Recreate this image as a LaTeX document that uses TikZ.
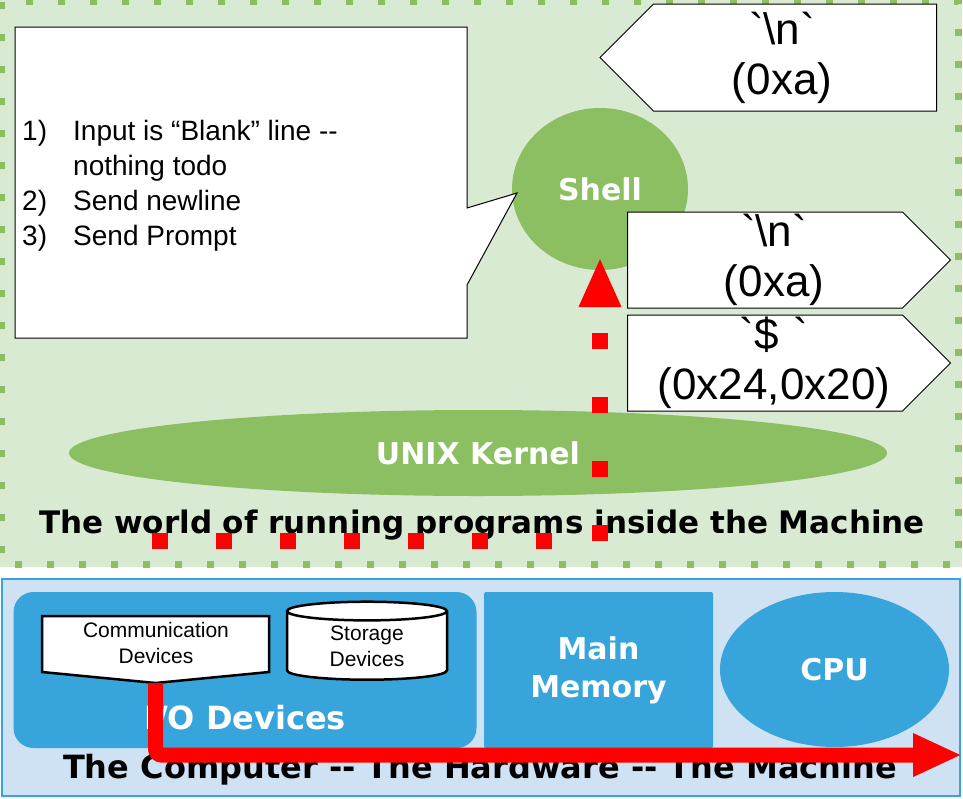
\documentclass[tikz,border=0pt]{standalone}
\usepackage{fontspec}
\setmainfont{Liberation Sans}
\newfontfamily\tagfont[Ligatures=TeXOff]{Liberation Sans}
\newfontfamily\headfont{DejaVu Sans Bold}
\usetikzlibrary{shapes.geometric, shapes.symbols, arrows.meta}

\definecolor{worldgreen}{HTML}{D9EAD3}
\definecolor{blobgreen}{HTML}{8CBF61}
\definecolor{hwbg}{HTML}{CFE2F3}
\definecolor{hwblue}{HTML}{37A5DB}
\definecolor{flowred}{HTML}{FF0000}

\begin{document}
\begin{tikzpicture}[
    x=1pt, y=-1pt,
    blob/.style={
      ellipse,
      fill=blobgreen,
      text=white,
      inner sep=0pt,
      font=\headfont\fontsize{30}{36}\selectfont
    },
    tag/.style={
      signal,
      draw,
      fill=white,
      line width=1pt,
      signal pointer angle=90,
      align=center,
      inner xsep=10pt,
      inner ysep=0pt,
      font=\tagfont\fontsize{44}{50}\selectfont
    },
    hw/.style={
      fill=hwblue,
      text=white,
      align=center,
      font=\headfont\fontsize{30}{38}\selectfont
    },
    caption/.style={
      anchor=base,
      font=\headfont\fontsize{31}{36}\selectfont
    },
    dev/.style={draw, fill=white, line width=2.5pt},
    devtext/.style={align=center, inner sep=0pt, font=\fontsize{21}{26}\selectfont},
    keys/.style={
      draw=flowred,
      line width=16pt,
      dash pattern=on 16pt off 48pt,
      -{Triangle[length=50pt,width=39pt]},
      shorten >=-13pt
    },
    flow/.style={
      draw=flowred,
      line width=15pt,
      rounded corners=6pt,
      -{Triangle[length=49pt,width=40pt]}
    }
  ]
  \useasboundingbox (0,0) rectangle (963,798);

  % the running programs
  \fill[worldgreen] (0,0) rectangle (962,567);
  \draw[blobgreen, line width=7pt, dash pattern=on 7pt off 25pt] (1.5,1.5) rectangle (958,564.5);

  \node[blob, minimum width=818pt, minimum height=86pt] (kernel) at (478,453) {UNIX Kernel};
  \node[blob, minimum width=176pt, minimum height=162pt] (shell) at (600,189) {Shell};

  \filldraw[fill=white, line width=1pt] (15,27) -- (467,27) -- (467,208) -- (517,193)
    -- (467,285) -- (467,338) -- (15,338) -- cycle;
  \node[anchor=west, inner sep=0pt, font=\fontsize{28}{35}\selectfont] (todo) at (22,185.5) {%
    \begin{tabular}{@{}p{51pt}@{}l@{}}
      1) & Input is “Blank” line {-}{-}\\
         & nothing todo\\
      2) & Send newline\\
      3) & Send Prompt
    \end{tabular}};

  \node[tag, signal to=west, anchor=east, text width=263pt, minimum height=107pt] (nlin) at (937,57.5)
    {\hspace*{-26pt}`\textbackslash n`\\\hspace*{-26pt}(0xa)};
  \node[tag, signal to=east, anchor=west, text width=255pt, minimum height=96pt] (nlout) at (627,260)
    {\hspace*{18pt}`\textbackslash n`\\\hspace*{18pt}(0xa)};
  \node[tag, signal to=east, anchor=west, text width=255pt, minimum height=96pt] (prompt) at (627,363)
    {\hspace*{18pt}`\$ `\\\hspace*{18pt}(0x24,0x20)};

  \node[caption] (worldcap) at (482,533) {The world of running programs inside the Machine};

  % the hardware
  \draw[fill=hwbg, draw=hwblue, line width=2.5pt] (2,579) rectangle (960,796);

  \node[hw, rounded corners=20pt, minimum width=463pt, minimum height=156pt] (io) at (245,670) {};
  \node[hw, rounded corners=2pt, minimum width=229pt, minimum height=156pt] (mem) at (598.5,670) {Main\\Memory};
  \node[hw, ellipse, minimum width=229pt, minimum height=155pt] (cpu) at (834.5,669.5) {CPU};

  \filldraw[dev] (42,616) -- (269,616) -- (269,672) -- (155.5,683) -- (42,672) -- cycle;
  \node[devtext] (comm) at (156,643) {Communication\\Devices};
  \node[dev, devtext, cylinder, shape border rotate=90, aspect=0.25,
    minimum width=160pt, minimum height=78pt] (store) at (367,646) {Storage\\Devices};
  \node[caption, text=white, font=\headfont\fontsize{32}{38}\selectfont] (iolabel) at (245,729) {I/O Devices};

  \node[caption, font=\headfont\fontsize{32}{36}\selectfont] (hwcap) at (480,778) {The Computer {-}{-} The Hardware {-}{-} The Machine};

  % keystrokes
  \coordinate (kbd) at (152,541);
  \coordinate (commtip) at (155.5,683);
  \coordinate (cpuin) at (962,755);
  \draw[keys] (kbd) -| (shell.south);
  \draw[flow] (commtip) |- (cpuin);
\end{tikzpicture}
\end{document}
